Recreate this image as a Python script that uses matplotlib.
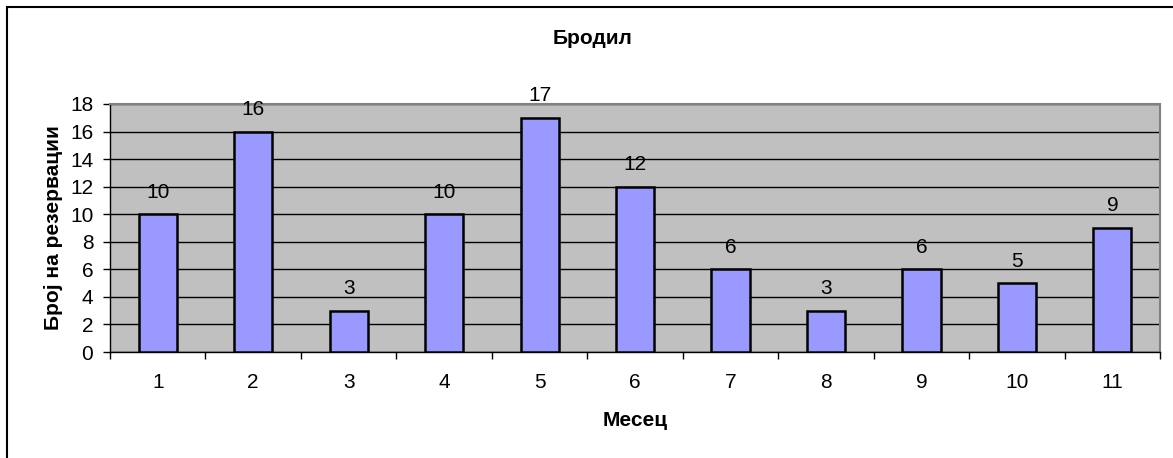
import matplotlib.pyplot as plt
import numpy as np
from matplotlib.patches import Rectangle

plt.rcParams["font.family"] = ["Liberation Sans", "DejaVu Sans"]

# Data
months = ["1", "2", "3", "4", "5", "6", "7", "8", "9", "10", "11"]
reservations = [10, 16, 3, 10, 17, 12, 6, 3, 6, 5, 9]

fig = plt.figure(figsize=(11.73, 4.58), dpi=100)
ax = fig.add_axes([0.0938, 0.2314, 0.8952, 0.5416])

x = np.arange(len(months))
ax.bar(x, reservations, width=0.4, color="#9999FF", edgecolor="black",
       linewidth=1.8, zorder=3)
for xi, v in zip(x, reservations):
    ax.annotate(str(v), (xi, v), xytext=(0, 9), textcoords="offset points",
                ha="center", va="bottom", fontsize=15, zorder=4)

ax.set_facecolor("#C0C0C0")
ax.set_xlim(-0.5, len(months) - 0.5)
ax.set_ylim(0, 18)
ax.set_yticks(range(0, 19, 2))
ax.yaxis.grid(True, color="black", linewidth=1)
ax.set_axisbelow(True)

# category labels centered, ticks between categories
ax.set_xticks(x)
ax.set_xticklabels(months)
ax.tick_params(axis="x", which="major", length=0, labelsize=15, pad=15)
ax.set_xticks(np.arange(-0.5, len(months)), minor=True)
ax.tick_params(axis="x", which="minor", length=5, width=1, direction="out")
ax.tick_params(axis="y", length=5, width=1, direction="out", labelsize=15, pad=7)

for side in ["top", "right"]:
    ax.spines[side].set_color("#808080")
    ax.spines[side].set_linewidth(1.5)
for side in ["left", "bottom"]:
    ax.spines[side].set_color("black")
    ax.spines[side].set_linewidth(1)

fig.text(593 / 1173, 1 - 38 / 458, "Бродил", fontsize=15, fontweight="bold",
         ha="center", va="center")
ax.set_xlabel("Месец", fontsize=15, fontweight="bold", labelpad=14)
ax.set_ylabel("Број на резервации", fontsize=15, fontweight="bold", labelpad=5)

# outer chart border (right/bottom fall outside the picture)
fig.patches.append(Rectangle((7 / 1173, -0.1), 1.2, 1 - 7 / 458 + 0.1,
                             transform=fig.transFigure, fill=False,
                             edgecolor="black", linewidth=1.5))

fig.savefig("out.png", dpi=100)
